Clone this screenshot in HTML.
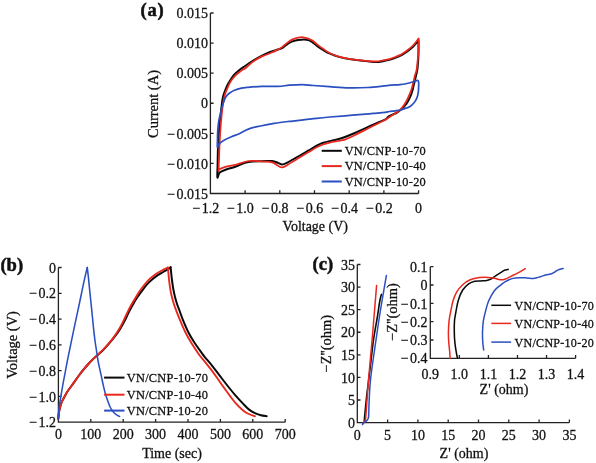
<!DOCTYPE html>
<html><head><meta charset="utf-8"><style>
html,body{margin:0;padding:0;background:#fff;}
svg{display:block;will-change:transform;}
text{font-family:"Liberation Serif", serif;fill:#111;stroke:#111;stroke-width:0.28px;}
</style></head><body>
<svg width="596" height="463" viewBox="0 0 596 463">
<rect width="596" height="463" fill="#fff"/>
<path d="M210.4 13V193.5H418.6 M245.1 193.5V190.3 M279.8 193.5V190.3 M314.5 193.5V190.3 M349.2 193.5V190.3 M383.9 193.5V190.3 M418.6 193.5V190.3 M210.4 13H213.6 M210.4 43.08H213.6 M210.4 73.17H213.6 M210.4 103.25H213.6 M210.4 133.33H213.6 M210.4 163.42H213.6" stroke="#222" stroke-width="1.3" fill="none"/>
<text font-size="14" text-anchor="end" font-weight="normal" transform="translate(208 18.17) scale(1 1.05)">0.015</text>
<text font-size="14" text-anchor="end" font-weight="normal" transform="translate(208 48.25) scale(1 1.05)">0.010</text>
<text font-size="14" text-anchor="end" font-weight="normal" transform="translate(208 78.34) scale(1 1.05)">0.005</text>
<text font-size="14" text-anchor="end" font-weight="normal" transform="translate(208 108.42) scale(1 1.05)">0</text>
<text font-size="14" text-anchor="end" font-weight="normal" transform="translate(208 138.5) scale(1 1.05)">0.005</text>
<text font-size="14" text-anchor="end" font-weight="normal" transform="translate(174.9 138.5) scale(1 1.05)">&#8722;</text>
<text font-size="14" text-anchor="end" font-weight="normal" transform="translate(208 168.59) scale(1 1.05)">0.010</text>
<text font-size="14" text-anchor="end" font-weight="normal" transform="translate(174.9 168.59) scale(1 1.05)">&#8722;</text>
<text font-size="14" text-anchor="end" font-weight="normal" transform="translate(208 198.67) scale(1 1.05)">0.015</text>
<text font-size="14" text-anchor="end" font-weight="normal" transform="translate(174.9 198.67) scale(1 1.05)">&#8722;</text>
<text font-size="14" text-anchor="middle" font-weight="normal" transform="translate(210.4 212.76) scale(1 1.05)">1.2</text>
<text font-size="14" text-anchor="end" font-weight="normal" transform="translate(200.05 212.76) scale(1 1.05)">&#8722;</text>
<text font-size="14" text-anchor="middle" font-weight="normal" transform="translate(245.1 212.76) scale(1 1.05)">1.0</text>
<text font-size="14" text-anchor="end" font-weight="normal" transform="translate(234.75 212.76) scale(1 1.05)">&#8722;</text>
<text font-size="14" text-anchor="middle" font-weight="normal" transform="translate(279.8 212.76) scale(1 1.05)">0.8</text>
<text font-size="14" text-anchor="end" font-weight="normal" transform="translate(269.45 212.76) scale(1 1.05)">&#8722;</text>
<text font-size="14" text-anchor="middle" font-weight="normal" transform="translate(314.5 212.76) scale(1 1.05)">0.6</text>
<text font-size="14" text-anchor="end" font-weight="normal" transform="translate(304.15 212.76) scale(1 1.05)">&#8722;</text>
<text font-size="14" text-anchor="middle" font-weight="normal" transform="translate(349.2 212.76) scale(1 1.05)">0.4</text>
<text font-size="14" text-anchor="end" font-weight="normal" transform="translate(338.85 212.76) scale(1 1.05)">&#8722;</text>
<text font-size="14" text-anchor="middle" font-weight="normal" transform="translate(383.9 212.76) scale(1 1.05)">0.2</text>
<text font-size="14" text-anchor="end" font-weight="normal" transform="translate(373.55 212.76) scale(1 1.05)">&#8722;</text>
<text font-size="14" text-anchor="middle" font-weight="normal" transform="translate(418.6 212.76) scale(1 1.05)">0</text>
<text font-size="14" text-anchor="middle" font-weight="normal" transform="translate(315.3 231) scale(1 1.05)">Voltage (V)</text>
<text font-size="14" text-anchor="middle" font-weight="normal" transform="translate(158.4 104) rotate(-90) scale(1.035 1)">Current (A)</text>
<text font-size="18.6" text-anchor="start" font-weight="bold" transform="translate(140.5 16.2) scale(1 1.0)" letter-spacing="0.7" style="stroke-width:0.5px">(a)</text>
<path d="M217.4 177.5 C217.05 176.23 217.52 169.58 217.6 165 C217.68 160.42 217.77 154.17 217.9 150 C218.03 145.83 218.2 143.33 218.4 140 C218.6 136.67 218.87 133 219.1 130 C219.33 127 219.55 124.5 219.8 122 C220.05 119.5 220.32 117.5 220.6 115 C220.88 112.5 221.2 109.5 221.5 107 C221.8 104.5 222.07 102 222.4 100 C222.73 98 223.02 96.67 223.5 95 C223.98 93.33 224.63 91.67 225.3 90 C225.97 88.33 226.8 86.42 227.5 85 C228.2 83.58 228.48 83.1 229.5 81.5 C230.52 79.9 232.2 77.12 233.6 75.4 C235 73.68 236.3 72.55 237.9 71.2 C239.5 69.85 240.77 69 243.2 67.3 C245.63 65.6 249.37 62.95 252.5 61 C255.63 59.05 259.08 57.12 262 55.6 C264.92 54.08 267.67 52.82 270 51.9 C272.33 50.98 273.98 50.73 276 50.1 C278.02 49.47 280.08 49.18 282.1 48.1 C284.12 47.02 286.25 44.77 288.1 43.6 C289.95 42.43 291.52 41.72 293.2 41.1 C294.88 40.48 296.37 40.18 298.2 39.9 C300.03 39.62 302.52 39.37 304.2 39.4 C305.88 39.43 306.95 39.65 308.3 40.1 C309.65 40.55 310.8 41.1 312.3 42.1 C313.8 43.1 315.45 44.77 317.3 46.1 C319.15 47.43 321.28 48.83 323.4 50.1 C325.52 51.37 327.42 52.57 330 53.7 C332.58 54.83 335.17 55.92 338.9 56.9 C342.63 57.88 347.88 58.9 352.4 59.6 C356.92 60.3 361.98 60.68 366 61.1 C370.02 61.52 373.67 62.08 376.5 62.1 C379.33 62.12 380.85 61.57 383 61.2 C385.15 60.83 387.25 60.5 389.4 59.9 C391.55 59.3 393.95 58.35 395.9 57.6 C397.85 56.85 399.58 56.17 401.1 55.4 C402.62 54.63 403.68 53.87 405 53 C406.32 52.13 407.67 51.23 409 50.2 C410.33 49.17 411.78 48 413 46.8 C414.22 45.6 415.42 44.08 416.3 43 C417.18 41.92 417.93 39.8 418.3 40.3 C418.67 40.8 418.47 43.82 418.5 46 C418.53 48.18 418.57 50.87 418.5 53.4 C418.43 55.93 418.3 58.43 418.1 61.2 C417.9 63.97 417.65 67.6 417.3 70 C416.95 72.4 416.43 73.73 416 75.6 C415.57 77.47 415.13 79.4 414.7 81.2 C414.27 83 413.75 84.93 413.4 86.4 C413.05 87.87 412.97 88.68 412.6 90 C412.23 91.32 411.8 92.77 411.2 94.3 C410.6 95.83 409.82 97.58 409 99.2 C408.18 100.82 407.28 102.6 406.3 104 C405.32 105.4 404.23 106.47 403.1 107.6 C401.97 108.73 400.63 109.9 399.5 110.8 C398.37 111.7 398.02 112.1 396.3 113 C394.58 113.9 391.08 115.08 389.2 116.2 C387.32 117.32 386.6 118.77 385 119.7 C383.4 120.63 381.95 120.8 379.6 121.8 C377.25 122.8 373.78 124.4 370.9 125.7 C368.02 127 365.18 128.3 362.3 129.6 C359.42 130.9 356.48 132.27 353.6 133.5 C350.72 134.73 347.6 136.03 345 137 C342.4 137.97 340.1 138.72 338 139.3 C335.9 139.88 334.85 139.92 332.4 140.5 C329.95 141.08 325.83 141.98 323.3 142.8 C320.77 143.62 319.72 144.08 317.2 145.4 C314.68 146.72 311.22 148.93 308.2 150.7 C305.18 152.47 301.53 154.62 299.1 156 C296.67 157.38 295.48 157.95 293.6 159 C291.72 160.05 289.68 161.38 287.8 162.3 C285.92 163.22 283.93 164.4 282.3 164.5 C280.67 164.6 279.68 163.48 278 162.9 C276.32 162.32 274.78 161.27 272.2 161 C269.62 160.73 265.73 161.22 262.5 161.3 C259.27 161.38 255.72 161.23 252.8 161.5 C249.88 161.77 247.92 162.02 245 162.9 C242.08 163.78 238.53 165.67 235.3 166.8 C232.07 167.93 228.2 168.73 225.6 169.7 C223 170.67 221.07 171.3 219.7 172.6 C218.33 173.9 217.75 178.77 217.4 177.5Z" stroke="#0a0a0a" stroke-width="2.0" fill="none" stroke-linejoin="round" stroke-linecap="round"/>
<path d="M218.6 170.5 C218.52 168.97 218.87 163.7 219 160 C219.13 156.3 219.25 151.97 219.4 148.3 C219.55 144.63 219.73 141.05 219.9 138 C220.07 134.95 220.22 132.67 220.4 130 C220.58 127.33 220.78 124.5 221 122 C221.22 119.5 221.43 117.5 221.7 115 C221.97 112.5 222.27 109.5 222.6 107 C222.93 104.5 223.28 102.17 223.7 100 C224.12 97.83 224.57 95.75 225.1 94 C225.63 92.25 226.07 91.43 226.9 89.5 C227.73 87.57 228.83 84.6 230.1 82.4 C231.37 80.2 232.77 78.17 234.5 76.3 C236.23 74.43 238.58 72.63 240.5 71.2 C242.42 69.77 244 69.23 246 67.7 C248 66.17 249.83 63.88 252.5 62 C255.17 60.12 259.08 57.87 262 56.4 C264.92 54.93 267.67 54.17 270 53.2 C272.33 52.23 273.98 51.62 276 50.6 C278.02 49.58 280.08 48.52 282.1 47.1 C284.12 45.68 286.25 43.43 288.1 42.1 C289.95 40.77 291.52 39.85 293.2 39.1 C294.88 38.35 296.53 37.9 298.2 37.6 C299.87 37.3 301.52 37.13 303.2 37.3 C304.88 37.47 306.78 38.05 308.3 38.6 C309.82 39.15 310.8 39.6 312.3 40.6 C313.8 41.6 315.45 43.18 317.3 44.6 C319.15 46.02 321.28 47.67 323.4 49.1 C325.52 50.53 327.42 51.95 330 53.2 C332.58 54.45 335.17 55.57 338.9 56.6 C342.63 57.63 347.88 58.68 352.4 59.4 C356.92 60.12 361.98 60.57 366 60.9 C370.02 61.23 373.67 61.48 376.5 61.4 C379.33 61.32 380.85 60.78 383 60.4 C385.15 60.02 387.25 59.7 389.4 59.1 C391.55 58.5 393.95 57.55 395.9 56.8 C397.85 56.05 399.58 55.4 401.1 54.6 C402.62 53.8 403.68 52.93 405 52 C406.32 51.07 407.67 50.08 409 49 C410.33 47.92 411.75 46.75 413 45.5 C414.25 44.25 415.55 42.65 416.5 41.5 C417.45 40.35 418.35 37.92 418.7 38.6 C419.05 39.28 418.68 43.13 418.6 45.6 C418.52 48.07 418.37 50.8 418.2 53.4 C418.03 56 417.87 58.43 417.6 61.2 C417.33 63.97 417.05 67.6 416.6 70 C416.15 72.4 415.4 73.73 414.9 75.6 C414.4 77.47 414.03 79.4 413.6 81.2 C413.17 83 412.68 84.93 412.3 86.4 C411.92 87.87 411.75 88.68 411.3 90 C410.85 91.32 410.25 92.77 409.6 94.3 C408.95 95.83 408.22 97.58 407.4 99.2 C406.58 100.82 405.68 102.5 404.7 104 C403.72 105.5 402.53 106.98 401.5 108.2 C400.47 109.42 399.58 110.42 398.5 111.3 C397.42 112.18 396.55 112.52 395 113.5 C393.45 114.48 390.87 116.1 389.2 117.2 C387.53 118.3 386.6 119.18 385 120.1 C383.4 121.02 381.95 121.55 379.6 122.7 C377.25 123.85 373.78 125.55 370.9 127 C368.02 128.45 365.18 129.95 362.3 131.4 C359.42 132.85 356.48 134.33 353.6 135.7 C350.72 137.07 347.6 138.72 345 139.6 C342.4 140.48 340.1 140.62 338 141 C335.9 141.38 334.85 141.32 332.4 141.9 C329.95 142.48 325.83 143.65 323.3 144.5 C320.77 145.35 319.72 145.7 317.2 147 C314.68 148.3 311.22 150.5 308.2 152.3 C305.18 154.1 301.53 156.35 299.1 157.8 C296.67 159.25 295.48 159.83 293.6 161 C291.72 162.17 289.68 163.73 287.8 164.8 C285.92 165.87 283.93 167.23 282.3 167.4 C280.67 167.57 279.68 166.65 278 165.8 C276.32 164.95 274.78 163.02 272.2 162.3 C269.62 161.58 266.38 161.72 262.5 161.5 C258.62 161.28 253.43 160.45 248.9 161 C244.37 161.55 239.18 163.83 235.3 164.8 C231.42 165.77 228.23 166.07 225.6 166.8 C222.97 167.53 220.67 168.58 219.5 169.2 C218.33 169.82 218.68 172.03 218.6 170.5Z" stroke="#e8281e" stroke-width="1.75" fill="none" stroke-linejoin="round" stroke-linecap="round"/>
<path d="M217.4 147.3 C217.2 146.23 217.43 140.88 217.5 138 C217.57 135.12 217.58 132.83 217.8 130 C218.02 127.17 218.37 123.67 218.8 121 C219.23 118.33 219.82 116.5 220.4 114 C220.98 111.5 221.7 108.17 222.3 106 C222.9 103.83 223.42 102.5 224 101 C224.58 99.5 224.92 98.28 225.8 97 C226.68 95.72 227.85 94.42 229.3 93.3 C230.75 92.18 232.48 91.17 234.5 90.3 C236.52 89.43 239.33 88.58 241.4 88.1 C243.47 87.62 243.52 87.68 246.9 87.4 C250.28 87.12 256.47 86.57 261.7 86.4 C266.93 86.23 273.68 86.6 278.3 86.4 C282.92 86.2 285.4 85.5 289.4 85.2 C293.4 84.9 298.3 84.55 302.3 84.6 C306.3 84.65 308.9 85.17 313.4 85.5 C317.9 85.83 323.43 86.2 329.3 86.6 C335.17 87 342.17 87.75 348.6 87.9 C355.03 88.05 361.47 87.88 367.9 87.5 C374.33 87.12 381.85 86.08 387.2 85.6 C392.55 85.12 397.03 84.87 400 84.6 C402.97 84.33 403.45 84.27 405 84 C406.55 83.73 407.87 83.38 409.3 83 C410.73 82.62 412.22 82.13 413.6 81.7 C414.98 81.27 416.77 80.35 417.6 80.4 C418.43 80.45 418.45 80.4 418.6 82 C418.75 83.6 418.65 87.77 418.5 90 C418.35 92.23 418.1 93.78 417.7 95.4 C417.3 97.02 416.82 98.35 416.1 99.7 C415.38 101.05 414.48 102.33 413.4 103.5 C412.32 104.67 411.05 105.85 409.6 106.7 C408.15 107.55 406.23 108.05 404.7 108.6 C403.17 109.15 402.02 109.63 400.4 110 C398.78 110.37 396.87 110.55 395 110.8 C393.13 111.05 390.87 111.25 389.2 111.5 C387.53 111.75 387.7 111.98 385 112.3 C382.3 112.62 376.78 113.05 373 113.4 C369.22 113.75 366.97 114 362.3 114.4 C357.63 114.8 350.38 115.37 345 115.8 C339.62 116.23 334.73 116.58 330 117 C325.27 117.42 320.75 117.85 316.6 118.3 C312.45 118.75 308.7 119.28 305.1 119.7 C301.5 120.12 297.68 120.52 295 120.8 C292.32 121.08 292.47 120.97 289 121.4 C285.53 121.83 278.95 122.63 274.2 123.4 C269.45 124.17 264.72 125.08 260.5 126 C256.28 126.92 252.45 127.62 248.9 128.9 C245.35 130.18 242.12 132.4 239.2 133.7 C236.28 135 234 135.57 231.4 136.7 C228.8 137.83 225.72 139.22 223.6 140.5 C221.48 141.78 219.73 143.27 218.7 144.4 C217.67 145.53 217.6 148.37 217.4 147.3Z" stroke="#2a4fc0" stroke-width="1.75" fill="none" stroke-linejoin="round" stroke-linecap="round"/>
<path d="M321.7 150.8H341.8" stroke="#0a0a0a" stroke-width="2.0"/>
<text font-size="12.350000000000001" text-anchor="start" font-weight="normal" transform="translate(344.7 155) scale(1 1.05)" letter-spacing="0.26">VN/CNP-10-70</text>
<path d="M321.7 166.1H341.8" stroke="#e8281e" stroke-width="2.0"/>
<text font-size="12.350000000000001" text-anchor="start" font-weight="normal" transform="translate(344.7 170.3) scale(1 1.05)" letter-spacing="0.26">VN/CNP-10-40</text>
<path d="M321.7 181.5H341.8" stroke="#2a4fc0" stroke-width="2.0"/>
<text font-size="12.350000000000001" text-anchor="start" font-weight="normal" transform="translate(344.7 185.7) scale(1 1.05)" letter-spacing="0.26">VN/CNP-10-20</text>
<path d="M58.4 267.5V422.2H285.2 M90.8 422.2V419 M123.2 422.2V419 M155.6 422.2V419 M188 422.2V419 M220.4 422.2V419 M252.8 422.2V419 M285.2 422.2V419 M58.4 267.5H61.6 M58.4 293.28H61.6 M58.4 319.07H61.6 M58.4 344.85H61.6 M58.4 370.63H61.6 M58.4 396.42H61.6" stroke="#222" stroke-width="1.3" fill="none"/>
<text font-size="14" text-anchor="end" font-weight="normal" transform="translate(56 272.67) scale(1 1.05)">0</text>
<text font-size="14" text-anchor="end" font-weight="normal" transform="translate(56 298.45) scale(1 1.05)">0.2</text>
<text font-size="14" text-anchor="end" font-weight="normal" transform="translate(36.9 298.45) scale(1 1.05)">&#8722;</text>
<text font-size="14" text-anchor="end" font-weight="normal" transform="translate(56 324.24) scale(1 1.05)">0.4</text>
<text font-size="14" text-anchor="end" font-weight="normal" transform="translate(36.9 324.24) scale(1 1.05)">&#8722;</text>
<text font-size="14" text-anchor="end" font-weight="normal" transform="translate(56 350.02) scale(1 1.05)">0.6</text>
<text font-size="14" text-anchor="end" font-weight="normal" transform="translate(36.9 350.02) scale(1 1.05)">&#8722;</text>
<text font-size="14" text-anchor="end" font-weight="normal" transform="translate(56 375.8) scale(1 1.05)">0.8</text>
<text font-size="14" text-anchor="end" font-weight="normal" transform="translate(36.9 375.8) scale(1 1.05)">&#8722;</text>
<text font-size="14" text-anchor="end" font-weight="normal" transform="translate(56 401.59) scale(1 1.05)">1.0</text>
<text font-size="14" text-anchor="end" font-weight="normal" transform="translate(36.9 401.59) scale(1 1.05)">&#8722;</text>
<text font-size="14" text-anchor="end" font-weight="normal" transform="translate(56 427.37) scale(1 1.05)">1.2</text>
<text font-size="14" text-anchor="end" font-weight="normal" transform="translate(36.9 427.37) scale(1 1.05)">&#8722;</text>
<text font-size="14" text-anchor="middle" font-weight="normal" transform="translate(58.4 438.66) scale(1 1.05)">0</text>
<text font-size="14" text-anchor="middle" font-weight="normal" transform="translate(90.8 438.66) scale(1 1.05)">100</text>
<text font-size="14" text-anchor="middle" font-weight="normal" transform="translate(123.2 438.66) scale(1 1.05)">200</text>
<text font-size="14" text-anchor="middle" font-weight="normal" transform="translate(155.6 438.66) scale(1 1.05)">300</text>
<text font-size="14" text-anchor="middle" font-weight="normal" transform="translate(188 438.66) scale(1 1.05)">400</text>
<text font-size="14" text-anchor="middle" font-weight="normal" transform="translate(220.4 438.66) scale(1 1.05)">500</text>
<text font-size="14" text-anchor="middle" font-weight="normal" transform="translate(252.8 438.66) scale(1 1.05)">600</text>
<text font-size="14" text-anchor="middle" font-weight="normal" transform="translate(285.2 438.66) scale(1 1.05)">700</text>
<text font-size="14" text-anchor="middle" font-weight="normal" transform="translate(172 458) scale(1 1.05)">Time (sec)</text>
<text font-size="14" text-anchor="middle" font-weight="normal" transform="translate(16.8 344.9) rotate(-90) scale(1.035 1)">Voltage (V)</text>
<text font-size="18.6" text-anchor="start" font-weight="bold" transform="translate(0.4 270.6) scale(1 1.0)" style="stroke-width:0.5px">(b)</text>
<path d="M58.3 418.8 C58.45 417.5 58.87 413.05 59.2 411 C59.53 408.95 59.9 407.95 60.3 406.5 C60.7 405.05 61.13 403.5 61.6 402.3 C62.07 401.1 62.42 400.62 63.1 399.3 C63.78 397.98 64.72 396.07 65.7 394.4 C66.68 392.73 67.82 391.02 69 389.3 C70.18 387.58 71.62 385.73 72.8 384.1 C73.98 382.47 75.02 381.02 76.1 379.5 C77.18 377.98 78.12 376.58 79.3 375 C80.48 373.42 81.83 371.67 83.2 370 C84.57 368.33 85.97 366.7 87.5 365 C89.03 363.3 90.8 361.37 92.4 359.8 C94 358.23 95.32 357.22 97.1 355.6 C98.88 353.98 101.08 352.13 103.1 350.1 C105.12 348.07 107.3 345.58 109.2 343.4 C111.1 341.22 112.65 339.47 114.5 337 C116.35 334.53 118.58 331.33 120.3 328.6 C122.02 325.87 123.42 323.28 124.8 320.6 C126.18 317.92 127.32 315.05 128.6 312.5 C129.88 309.95 131.23 307.57 132.5 305.3 C133.77 303.03 134.68 301.22 136.2 298.9 C137.72 296.58 139.8 293.82 141.6 291.4 C143.4 288.98 145.2 286.42 147 284.4 C148.8 282.38 150.6 280.83 152.4 279.3 C154.2 277.77 156 276.42 157.8 275.2 C159.6 273.98 161.58 272.93 163.2 272 C164.82 271.07 166.27 270.4 167.5 269.6 C168.73 268.8 170.08 267.6 170.6 267.2" stroke="#0a0a0a" stroke-width="2.0" fill="none" stroke-linejoin="round" stroke-linecap="round"/>
<path d="M170.6 267.2 C170.7 268.17 170.98 270.95 171.2 273 C171.42 275.05 171.57 276.92 171.9 279.5 C172.23 282.08 172.68 285.58 173.2 288.5 C173.72 291.42 174.33 294.33 175 297 C175.67 299.67 176.52 302.42 177.2 304.5 C177.88 306.58 178.17 306.98 179.1 309.5 C180.03 312.02 181.3 315.9 182.8 319.6 C184.3 323.3 186.2 327.92 188.1 331.7 C190 335.48 191.93 338.77 194.2 342.3 C196.47 345.83 199.9 350.4 201.7 352.9 C203.5 355.4 203.18 355.07 205 357.3 C206.82 359.53 210.08 363.15 212.6 366.3 C215.12 369.45 217.58 372.92 220.1 376.2 C222.62 379.48 225.18 382.85 227.7 386 C230.22 389.15 232.68 392.2 235.2 395.1 C237.72 398 240.53 401.02 242.8 403.4 C245.07 405.78 246.78 407.77 248.8 409.4 C250.82 411.03 252.88 412.23 254.9 413.2 C256.92 414.17 258.93 414.7 260.9 415.2 C262.87 415.7 265.73 416.03 266.7 416.2" stroke="#0a0a0a" stroke-width="2.0" fill="none" stroke-linejoin="round" stroke-linecap="round"/>
<path d="M58.3 418.8 C58.45 417.5 58.87 413.05 59.2 411 C59.53 408.95 59.9 407.95 60.3 406.5 C60.7 405.05 61.13 403.5 61.6 402.3 C62.07 401.1 62.42 400.62 63.1 399.3 C63.78 397.98 64.72 396.07 65.7 394.4 C66.68 392.73 67.82 391.02 69 389.3 C70.18 387.58 71.62 385.73 72.8 384.1 C73.98 382.47 75.02 381.02 76.1 379.5 C77.18 377.98 78.12 376.58 79.3 375 C80.48 373.42 81.83 371.67 83.2 370 C84.57 368.33 85.97 366.72 87.5 365 C89.03 363.28 90.8 361.3 92.4 359.7 C94 358.1 95.32 357.07 97.1 355.4 C98.88 353.73 101.08 351.78 103.1 349.7 C105.12 347.62 107.3 345.17 109.2 342.9 C111.1 340.63 112.77 338.55 114.5 336.1 C116.23 333.65 118.08 330.78 119.6 328.2 C121.12 325.62 122.33 323.17 123.6 320.6 C124.87 318.03 126 315.27 127.2 312.8 C128.4 310.33 129.48 308.18 130.8 305.8 C132.12 303.42 133.67 300.88 135.1 298.5 C136.53 296.12 137.95 293.67 139.4 291.5 C140.85 289.33 142.17 287.52 143.8 285.5 C145.43 283.48 147.4 281.17 149.2 279.4 C151 277.63 152.8 276.22 154.6 274.9 C156.4 273.58 158.38 272.45 160 271.5 C161.62 270.55 162.98 269.87 164.3 269.2 C165.62 268.53 167.3 267.78 167.9 267.5" stroke="#e8281e" stroke-width="1.9" fill="none" stroke-linejoin="round" stroke-linecap="round"/>
<path d="M167.9 267.5 C167.98 268.42 168.17 270.58 168.4 273 C168.63 275.42 168.93 278.98 169.3 282 C169.67 285.02 170.1 288.35 170.6 291.1 C171.1 293.85 171.7 296.18 172.3 298.5 C172.9 300.82 173.55 303 174.2 305 C174.85 307 175.27 308.07 176.2 310.5 C177.13 312.93 178.32 316.07 179.8 319.6 C181.28 323.13 183.08 327.67 185.1 331.7 C187.12 335.73 189.5 339.88 191.9 343.8 C194.3 347.72 197.32 352.2 199.5 355.2 C201.68 358.2 202.82 359.07 205 361.8 C207.18 364.53 210.08 368.2 212.6 371.6 C215.12 375 217.58 378.67 220.1 382.2 C222.62 385.73 225.18 389.4 227.7 392.8 C230.22 396.2 232.68 399.7 235.2 402.6 C237.72 405.5 240.53 408.3 242.8 410.2 C245.07 412.1 246.78 413 248.8 414 C250.82 415 253.88 415.83 254.9 416.2" stroke="#e8281e" stroke-width="1.9" fill="none" stroke-linejoin="round" stroke-linecap="round"/>
<path d="M58.2 418.8 C58.35 416.87 58.63 411.08 59.1 407.2 C59.57 403.32 60.35 399.38 61 395.5 C61.65 391.62 62.3 387.77 63 383.9 C63.7 380.03 64.47 376.18 65.2 372.3 C65.93 368.42 66.63 364.48 67.4 360.6 C68.17 356.72 69 352.87 69.8 349 C70.6 345.13 71.4 341.27 72.2 337.4 C73 333.53 73.78 329.68 74.6 325.8 C75.42 321.92 76.27 317.98 77.1 314.1 C77.93 310.22 78.78 306.37 79.6 302.5 C80.42 298.63 81.18 294.78 82 290.9 C82.82 287.02 83.63 283.08 84.5 279.2 C85.37 275.32 86.75 269.53 87.2 267.6" stroke="#2a4fc0" stroke-width="1.55" fill="none" stroke-linejoin="round" stroke-linecap="round"/>
<path d="M87.3 267.6 C87.5 269.37 88.03 273.73 88.5 278.2 C88.97 282.67 89.55 289 90.1 294.4 C90.65 299.8 91.25 305.18 91.8 310.6 C92.35 316.02 92.88 322 93.4 326.9 C93.92 331.8 94.4 336.15 94.9 340 C95.4 343.85 95.9 346.67 96.4 350 C96.9 353.33 97.38 357.03 97.9 360 C98.42 362.97 98.9 364.98 99.5 367.8 C100.1 370.62 100.85 373.88 101.5 376.9 C102.15 379.92 102.75 383.1 103.4 385.9 C104.05 388.7 104.63 391.1 105.4 393.7 C106.17 396.3 107.13 399.12 108 401.5 C108.87 403.88 109.63 406.17 110.6 408 C111.57 409.83 112.73 411.32 113.8 412.5 C114.87 413.68 116.03 414.45 117 415.1 C117.97 415.75 119.17 416.18 119.6 416.4" stroke="#2a4fc0" stroke-width="1.55" fill="none" stroke-linejoin="round" stroke-linecap="round"/>
<path d="M104.1 377.6H124.5" stroke="#0a0a0a" stroke-width="2.0"/>
<text font-size="12.350000000000001" text-anchor="start" font-weight="normal" transform="translate(126.8 381.6) scale(1 1.05)" letter-spacing="0.26">VN/CNP-10-70</text>
<path d="M104.1 394.7H124.5" stroke="#e8281e" stroke-width="2.0"/>
<text font-size="12.350000000000001" text-anchor="start" font-weight="normal" transform="translate(126.8 398.7) scale(1 1.05)" letter-spacing="0.26">VN/CNP-10-40</text>
<path d="M104.1 410.6H124.5" stroke="#2a4fc0" stroke-width="2.0"/>
<text font-size="12.350000000000001" text-anchor="start" font-weight="normal" transform="translate(126.8 414.6) scale(1 1.05)" letter-spacing="0.26">VN/CNP-10-20</text>
<path d="M357.3 264.5V422.6H569.4 M387.6 422.6V419.4 M417.9 422.6V419.4 M448.2 422.6V419.4 M478.5 422.6V419.4 M508.8 422.6V419.4 M539.1 422.6V419.4 M569.4 422.6V419.4 M357.3 264.5H360.5 M357.3 287.09H360.5 M357.3 309.67H360.5 M357.3 332.26H360.5 M357.3 354.84H360.5 M357.3 377.43H360.5 M357.3 400.01H360.5" stroke="#222" stroke-width="1.3" fill="none"/>
<text font-size="14" text-anchor="end" font-weight="normal" transform="translate(355 269.67) scale(1 1.05)">35</text>
<text font-size="14" text-anchor="middle" font-weight="normal" transform="translate(357.3 440.16) scale(1 1.05)">0</text>
<text font-size="14" text-anchor="end" font-weight="normal" transform="translate(355 292.25) scale(1 1.05)">30</text>
<text font-size="14" text-anchor="middle" font-weight="normal" transform="translate(387.6 440.16) scale(1 1.05)">5</text>
<text font-size="14" text-anchor="end" font-weight="normal" transform="translate(355 314.84) scale(1 1.05)">25</text>
<text font-size="14" text-anchor="middle" font-weight="normal" transform="translate(417.9 440.16) scale(1 1.05)">10</text>
<text font-size="14" text-anchor="end" font-weight="normal" transform="translate(355 337.43) scale(1 1.05)">20</text>
<text font-size="14" text-anchor="middle" font-weight="normal" transform="translate(448.2 440.16) scale(1 1.05)">15</text>
<text font-size="14" text-anchor="end" font-weight="normal" transform="translate(355 360.01) scale(1 1.05)">15</text>
<text font-size="14" text-anchor="middle" font-weight="normal" transform="translate(478.5 440.16) scale(1 1.05)">20</text>
<text font-size="14" text-anchor="end" font-weight="normal" transform="translate(355 382.6) scale(1 1.05)">10</text>
<text font-size="14" text-anchor="middle" font-weight="normal" transform="translate(508.8 440.16) scale(1 1.05)">25</text>
<text font-size="14" text-anchor="end" font-weight="normal" transform="translate(355 405.18) scale(1 1.05)">5</text>
<text font-size="14" text-anchor="middle" font-weight="normal" transform="translate(539.1 440.16) scale(1 1.05)">30</text>
<text font-size="14" text-anchor="end" font-weight="normal" transform="translate(355 427.77) scale(1 1.05)">0</text>
<text font-size="14" text-anchor="middle" font-weight="normal" transform="translate(569.4 440.16) scale(1 1.05)">35</text>
<text font-size="14" text-anchor="middle" font-weight="normal" transform="translate(464 458.3) scale(1 1.05)">Z' (ohm)</text>
<text font-size="14" text-anchor="middle" font-weight="normal" transform="translate(330.5 343.7) rotate(-90) scale(1.035 1)">&#8722;Z''(ohm)</text>
<text font-size="18.6" text-anchor="start" font-weight="bold" transform="translate(312.6 270.4) scale(1 1.0)" style="stroke-width:0.5px">(c)</text>
<path d="M364.3 421.5 C364.33 420.92 364.4 419.27 364.5 418 C364.6 416.73 364.52 417.73 364.9 413.9 C365.28 410.07 365.97 402.32 366.8 395 C367.63 387.68 368.78 379.17 369.9 370 C371.02 360.83 372.28 348.67 373.5 340 C374.72 331.33 376.25 323.88 377.2 318 C378.15 312.12 378.68 307.95 379.2 304.7 C379.72 301.45 379.93 300.22 380.3 298.5 C380.67 296.78 381.22 295.08 381.4 294.4" stroke="#0a0a0a" stroke-width="1.6" fill="none" stroke-linejoin="round" stroke-linecap="round"/>
<path d="M362.8 424 C363.12 423.6 364.22 422.63 364.7 421.6 C365.18 420.57 365.37 420.7 365.7 417.8 C366.03 414.9 366.22 410.68 366.7 404.2 C367.18 397.72 367.7 389.6 368.6 378.9 C369.5 368.2 370.77 355.58 372.1 340 C373.43 324.42 375.85 294.5 376.6 285.4" stroke="#e8281e" stroke-width="1.5" fill="none" stroke-linejoin="round" stroke-linecap="round"/>
<path d="M362.4 424.6 C362.62 424.27 362.98 423.25 363.7 422.6 C364.42 421.95 365.88 421.67 366.7 420.7 C367.52 419.73 368.22 419.55 368.6 416.8 C368.98 414.05 368.67 410.52 369 404.2 C369.33 397.88 369.43 389.6 370.6 378.9 C371.77 368.2 374.35 351.48 376 340 C377.65 328.52 378.77 320.77 380.5 310 C382.23 299.23 385.42 281.17 386.4 275.4" stroke="#2a4fc0" stroke-width="1.5" fill="none" stroke-linejoin="round" stroke-linecap="round"/>
<path d="M430.3 266.7V358.3H575.6 M459.36 358.3V355.1 M488.42 358.3V355.1 M517.48 358.3V355.1 M546.54 358.3V355.1 M575.6 358.3V355.1 M430.3 266.7H433.5 M430.3 285.02H433.5 M430.3 303.34H433.5 M430.3 321.66H433.5 M430.3 339.98H433.5" stroke="#222" stroke-width="1.3" fill="none"/>
<text font-size="14" text-anchor="end" font-weight="normal" transform="translate(427.4 271.87) scale(1 1.05)">0.1</text>
<text font-size="14" text-anchor="end" font-weight="normal" transform="translate(427.4 290.19) scale(1 1.05)">0</text>
<text font-size="14" text-anchor="end" font-weight="normal" transform="translate(427.4 308.51) scale(1 1.05)">0.1</text>
<text font-size="14" text-anchor="end" font-weight="normal" transform="translate(408.3 308.51) scale(1 1.05)">&#8722;</text>
<text font-size="14" text-anchor="end" font-weight="normal" transform="translate(427.4 326.83) scale(1 1.05)">0.2</text>
<text font-size="14" text-anchor="end" font-weight="normal" transform="translate(408.3 326.83) scale(1 1.05)">&#8722;</text>
<text font-size="14" text-anchor="end" font-weight="normal" transform="translate(427.4 345.15) scale(1 1.05)">0.3</text>
<text font-size="14" text-anchor="end" font-weight="normal" transform="translate(408.3 345.15) scale(1 1.05)">&#8722;</text>
<text font-size="14" text-anchor="end" font-weight="normal" transform="translate(427.4 363.47) scale(1 1.05)">0.4</text>
<text font-size="14" text-anchor="end" font-weight="normal" transform="translate(408.3 363.47) scale(1 1.05)">&#8722;</text>
<text font-size="14" text-anchor="middle" font-weight="normal" transform="translate(430.3 378.56) scale(1 1.05)">0.9</text>
<text font-size="14" text-anchor="middle" font-weight="normal" transform="translate(459.36 378.56) scale(1 1.05)">1.0</text>
<text font-size="14" text-anchor="middle" font-weight="normal" transform="translate(488.42 378.56) scale(1 1.05)">1.1</text>
<text font-size="14" text-anchor="middle" font-weight="normal" transform="translate(517.48 378.56) scale(1 1.05)">1.2</text>
<text font-size="14" text-anchor="middle" font-weight="normal" transform="translate(546.54 378.56) scale(1 1.05)">1.3</text>
<text font-size="14" text-anchor="middle" font-weight="normal" transform="translate(575.6 378.56) scale(1 1.05)">1.4</text>
<text font-size="14" text-anchor="middle" font-weight="normal" transform="translate(504 394) scale(1 1.05)">Z' (ohm)</text>
<text font-size="14" text-anchor="middle" font-weight="normal" transform="translate(397 312) rotate(-90) scale(1.035 1)">&#8722;Z''(ohm)</text>
<path d="M457.5 358.3 C457.28 357.22 456.63 354.38 456.2 351.8 C455.77 349.22 455.22 346.03 454.9 342.8 C454.58 339.57 454.37 336.08 454.3 332.4 C454.23 328.72 454.23 324.1 454.5 320.7 C454.77 317.3 455.25 315.45 455.9 312 C456.55 308.55 457.27 303.67 458.4 300 C459.53 296.33 460.98 292.68 462.7 290 C464.42 287.32 466.7 285.35 468.7 283.9 C470.7 282.45 472.68 281.8 474.7 281.3 C476.72 280.8 478.78 281.05 480.8 280.9 C482.82 280.75 485.05 280.73 486.8 280.4 C488.55 280.07 489.78 279.7 491.3 278.9 C492.82 278.1 494.13 276.78 495.9 275.6 C497.67 274.42 500.47 272.68 501.9 271.8 C503.33 270.92 503.45 270.7 504.5 270.3 C505.55 269.9 507.58 269.55 508.2 269.4" stroke="#0a0a0a" stroke-width="1.55" fill="none" stroke-linejoin="round" stroke-linecap="round"/>
<path d="M450.1 358.3 C450.03 357.22 449.92 354.38 449.7 351.8 C449.48 349.22 449.02 346.03 448.8 342.8 C448.58 339.57 448.35 336.08 448.4 332.4 C448.45 328.72 448.72 324.18 449.1 320.7 C449.48 317.22 450.07 314.73 450.7 311.5 C451.33 308.27 451.92 304.52 452.9 301.3 C453.88 298.08 454.97 294.97 456.6 292.2 C458.23 289.43 460.43 286.77 462.7 284.7 C464.97 282.63 467.43 280.98 470.2 279.8 C472.97 278.62 476.28 278 479.3 277.6 C482.32 277.2 485.78 277.28 488.3 277.4 C490.82 277.52 492.42 277.92 494.4 278.3 C496.38 278.68 498.45 279.55 500.2 279.7 C501.95 279.85 503.1 279.77 504.9 279.2 C506.7 278.63 508.73 277.4 511 276.3 C513.27 275.2 516.12 273.87 518.5 272.6 C520.88 271.33 524.17 269.35 525.3 268.7" stroke="#e8281e" stroke-width="1.5" fill="none" stroke-linejoin="round" stroke-linecap="round"/>
<path d="M483.7 349.9 C483.55 348.72 483 345.72 482.8 342.8 C482.6 339.88 482.4 336.08 482.5 332.4 C482.6 328.72 482.9 324.18 483.4 320.7 C483.9 317.22 484.63 314.78 485.5 311.5 C486.37 308.22 487.12 304.47 488.6 301 C490.08 297.53 492.45 293.32 494.4 290.7 C496.35 288.08 498.47 286.82 500.3 285.3 C502.13 283.78 503.43 282.72 505.4 281.6 C507.37 280.48 509.65 279.25 512.1 278.6 C514.55 277.95 517.65 277.82 520.1 277.7 C522.55 277.58 524.55 277.78 526.8 277.9 C529.05 278.02 531.35 278.58 533.6 278.4 C535.85 278.22 538.3 277.37 540.3 276.8 C542.3 276.23 543.7 275.52 545.6 275 C547.5 274.48 550.13 274.23 551.7 273.7 C553.27 273.17 554 272.4 555 271.8 C556 271.2 556.35 270.65 557.7 270.1 C559.05 269.55 562.2 268.77 563.1 268.5" stroke="#2a4fc0" stroke-width="1.5" fill="none" stroke-linejoin="round" stroke-linecap="round"/>
<path d="M491.3 305.3H511.1" stroke="#0a0a0a" stroke-width="1.5"/>
<text font-size="12.05" text-anchor="start" font-weight="normal" transform="translate(514.6 309.8) scale(1 1.05)" letter-spacing="0.26">VN/CNP-10-70</text>
<path d="M491.3 323.4H511.1" stroke="#e8281e" stroke-width="1.5"/>
<text font-size="12.05" text-anchor="start" font-weight="normal" transform="translate(514.6 327.9) scale(1 1.05)" letter-spacing="0.26">VN/CNP-10-40</text>
<path d="M491.3 342.1H511.1" stroke="#2a4fc0" stroke-width="1.5"/>
<text font-size="12.05" text-anchor="start" font-weight="normal" transform="translate(514.6 346.6) scale(1 1.05)" letter-spacing="0.26">VN/CNP-10-20</text>
</svg>
</body></html>
